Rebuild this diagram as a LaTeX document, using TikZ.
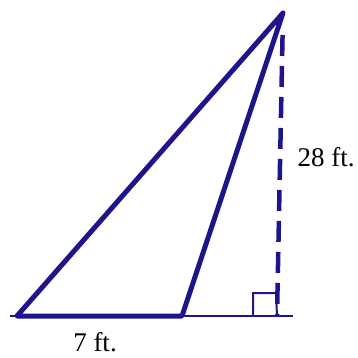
\documentclass[tikz,border=0pt]{standalone}
\usepackage{fontspec}
\setmainfont{Liberation Serif}
\definecolor{tri}{RGB}{30,20,140}
\begin{document}
\begin{tikzpicture}[x=1pt,y=-1pt,
  thick line/.style={draw=tri,line width=5pt,line join=round,line cap=round},
  thin line/.style={draw=tri,line width=2pt},
  height line/.style={draw=tri,line width=4.5pt,dash pattern=on 21pt off 10pt},
  lbl/.style={font=\fontsize{27}{31}\selectfont,text=black,inner sep=0pt}]
\useasboundingbox (0,0) rectangle (358,358);
\coordinate (L) at (10,316);
\coordinate (R) at (293,316);
\coordinate (A) at (17,316);
\coordinate (B) at (182,316);
\coordinate (C) at (283,13);
\coordinate (D) at (277,316);
\coordinate (Q1) at (253,316);
\coordinate (Q2) at (253,293);
\coordinate (Q3) at (276,293);
\draw[thin line] (L) -- (R);
\draw[thin line] (Q1) -- (Q2) -- (Q3) -- (D);
\draw[height line,shorten <=22pt] (C) -- (D);
\draw[thick line] (A) -- (B) -- (C) -- cycle;
\node[lbl] (h) at (326,157) {28 ft.};
\node[lbl] (b) at (95,342) {7 ft.};
\end{tikzpicture}
\end{document}
